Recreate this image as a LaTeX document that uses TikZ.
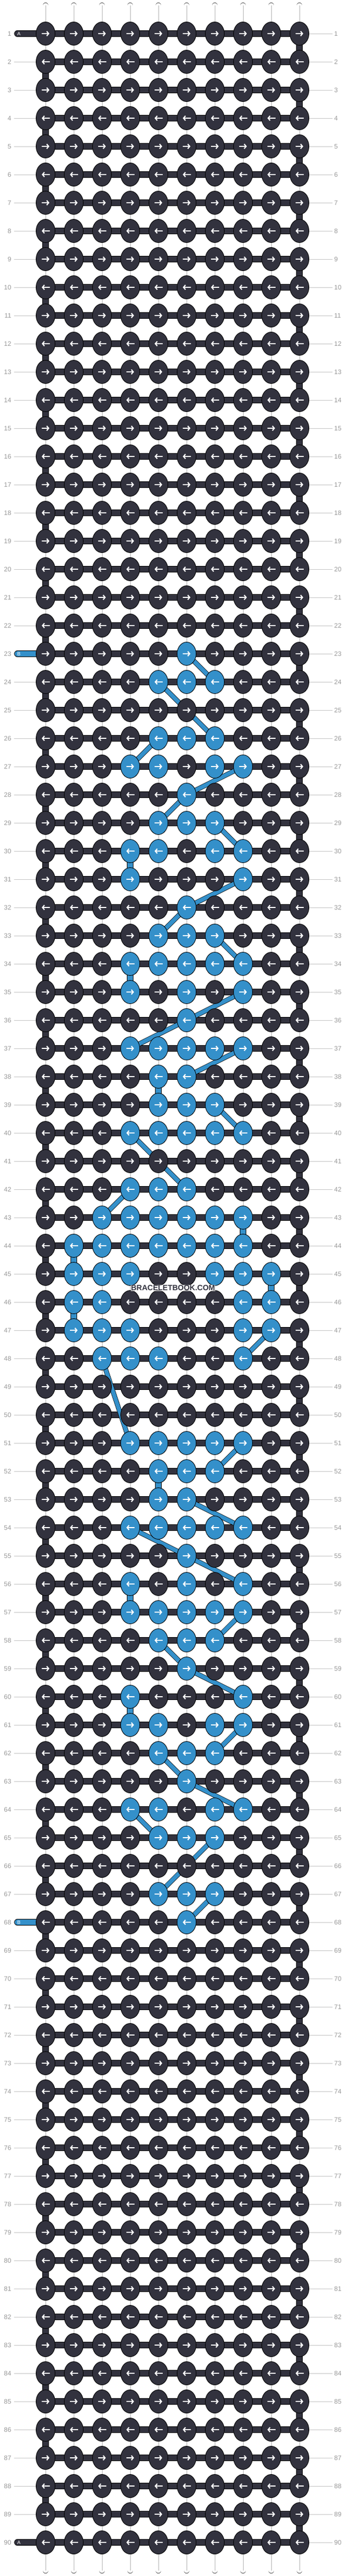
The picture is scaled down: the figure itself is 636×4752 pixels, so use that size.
\documentclass[tikz,border=0pt]{standalone}
\usepackage{fontspec}
\setmainfont{Liberation Sans}
\usetikzlibrary{shapes.geometric,arrows.meta}
\definecolor{bbDark}{HTML}{32323E}
\definecolor{bbBlue}{HTML}{3490CA}
\definecolor{lblGray}{HTML}{999999}
\definecolor{sideGray}{HTML}{C4C4C4}
\definecolor{tubeGray}{HTML}{B4B4B4}
\pgfdeclarelayer{bg}\pgfdeclarelayer{tubes}\pgfdeclarelayer{bars}\pgfdeclarelayer{carrylayer}
\pgfsetlayers{bg,tubes,bars,carrylayer,main}
\tikzset{
 knotnode/.style={ellipse, draw=black, line width=0.9pt, minimum width=35pt, minimum height=43pt, inner sep=0pt},
 bar/.style={draw=black, line width=0.8pt, double=bbDark, double distance=10pt},
 bluebar/.style={draw=black, line width=0.8pt, double=bbBlue, double distance=9.5pt},
 tube/.style={draw=black, line width=0.8pt, double=white, double distance=9.2pt},
 tubeline/.style={draw=tubeGray, line width=0.8pt},
 carry/.style={draw=black, line width=0.7pt, double=bbBlue, double distance=7.5pt},
 sideline/.style={draw=sideGray, line width=0.9pt},
 rowlbl/.style={text=lblGray, font=\fontsize{12}{12}\selectfont, inner sep=0pt},
 karrow/.style={draw=white, line width=2.1pt, -{Straight Barb[length=3.5pt,width=8.5pt]}},
 tabline/.style={draw=black, line width=0.8pt, double distance=10pt, line cap=round},
 tabtext/.style={text=white, font=\fontsize{9}{9}\selectfont, inner sep=0pt},
}
% blue knots
\foreach \r/\cs in {23/{6},24/{5,6,7},26/{5,6,7},27/{4,5,7,8},28/{6},29/{5,6,7},30/{4,5,7,8},31/{4,8},32/{6},33/{5,6,7},34/{4,5,6,7,8},35/{4,6,8},36/{6},37/{4,5,6,7,8},38/{5,6},39/{5,6,7},40/{4,5,6,7,8},42/{4,5,6},43/{3,4,5,6,7,8},44/{2,3,4,5,6,7,8},45/{2,3,4,7,8,9},46/{2,3,8,9},47/{2,3,4,8,9},48/{3,4,5,8},51/{4,5,6,7,8},52/{5,6,7},53/{5,6},54/{4,5,6,7,8},55/{6},56/{4,6,8},57/{4,5,6,7,8},58/{5,6,7},59/{6},60/{4,8},61/{4,5,7,8},62/{5,6,7},63/{6},64/{4,5,7,8},65/{5,6,7},67/{5,6,7},68/{6}}
{\foreach \c in \cs {\expandafter\gdef\csname kb-\c-\r\endcsname{}}}
% blue vertical connectors (column/row above)
\foreach \c/\r in {4/30,4/34,5/38,8/43,2/44,9/45,2/46,5/52,4/56,4/60}
{\expandafter\gdef\csname vb-\c-\r\endcsname{}}
% rows with tabs at the left
\foreach \r in {1,23,68,90}{\expandafter\gdef\csname tab-\r\endcsname{}}
\begin{document}
\begin{tikzpicture}[x=1pt,y=-1pt]
\useasboundingbox (0,0) rectangle (636,4752);
\begin{pgfonlayer}{bg}\fill[white] (0,0) rectangle (636,4752);\end{pgfonlayer}
% knots, arrows, labels
\foreach \r in {1,...,90}{
  \pgfmathtruncatemacro\yy{62+52*(\r-1)}
  \foreach \c in {1,...,10}{
    \pgfmathtruncatemacro\xx{84+52*(\c-1)}
    \ifcsname kb-\c-\r\endcsname\def\kc{bbBlue}\else\def\kc{bbDark}\fi
    \node[knotnode, fill=\kc] (k-\c-\r) at (\xx,\yy) {};
    \ifodd\r
      \draw[karrow] ([xshift=-7.5pt]k-\c-\r.center) -- ([xshift=7pt]k-\c-\r.center);
    \else
      \draw[karrow] ([xshift=7.5pt]k-\c-\r.center) -- ([xshift=-7pt]k-\c-\r.center);
    \fi
  }
  \node[rowlbl, anchor=east] (ll-\r) at (21,\yy) {\r};
  \node[rowlbl, anchor=west] (rl-\r) at (616,\yy) {\r};
}
% string tab letters
\foreach \r/\lt in {1/A,23/B,68/B,90/A}{
  \pgfmathtruncatemacro\yy{62+52*(\r-1)}
  \coordinate (ta-\r) at (32,\yy);
  \node[tabtext] (tt-\r) at (35,\yy) {\lt};
}
\foreach \c in {1,...,10}{
  \pgfmathtruncatemacro\xx{84+52*(\c-1)}
  \coordinate (t-\c) at (\xx,10);
  \coordinate (b-\c) at (\xx,4742);
}
% ---------- tubes layer: side lines, white base strings
\begin{pgfonlayer}{tubes}
\foreach \r in {1,...,90}{
  \ifcsname tab-\r\endcsname\else
    \draw[sideline] ([xshift=5pt]ll-\r.east) -- (k-1-\r.west);
  \fi
  \draw[sideline] (k-10-\r.east) -- ([xshift=-3pt]rl-\r.west);
}
\foreach \r in {1,...,89}{
  \pgfmathtruncatemacro\rn{\r+1}
  \foreach \c in {1,...,10}{
    \ifcsname vb-\c-\r\endcsname\else
      \def\edge{0}%
      \ifodd\r \ifnum\c=10 \def\edge{1}\fi \else \ifnum\c=1 \def\edge{1}\fi \fi
      \ifnum\edge=0
        \draw[tube] (k-\c-\r.center) -- (k-\c-\rn.center);
        \draw[tubeline] (k-\c-\r.center) -- (k-\c-\rn.center);
      \fi
    \fi
  }
}
\foreach \c in {1,...,10}{
  \draw[tube, line cap=round] (t-\c) -- (k-\c-1.center);
  \draw[tubeline] (t-\c) -- (k-\c-1.center);
  \draw[tube, line cap=round] (b-\c) -- (k-\c-90.center);
  \draw[tubeline] (b-\c) -- (k-\c-90.center);
}
\end{pgfonlayer}
% ---------- bars layer: working strings
\begin{pgfonlayer}{bars}
\foreach \r in {1,...,90}{
  \foreach \c [evaluate=\c as \cn using int(\c+1)] in {1,...,9}{
    \draw[bar] (k-\c-\r.center) -- (k-\cn-\r.center);
  }
}
\foreach \r in {1,...,89}{
  \pgfmathtruncatemacro\rn{\r+1}
  \foreach \c in {1,...,10}{
    \ifcsname vb-\c-\r\endcsname
      \draw[bluebar] (k-\c-\r.center) -- (k-\c-\rn.center);
    \else
      \def\edge{0}%
      \ifodd\r \ifnum\c=10 \def\edge{1}\fi \else \ifnum\c=1 \def\edge{1}\fi \fi
      \ifnum\edge=1
        \draw[bar] (k-\c-\r.center) -- (k-\c-\rn.center);
      \fi
    \fi
  }
}
\foreach \r/\col in {1/bbDark,23/bbBlue,68/bbBlue,90/bbDark}{
  \draw[tabline, double=\col] (ta-\r) -- (k-1-\r.center);
}
\end{pgfonlayer}
% ---------- carried blue string
\begin{pgfonlayer}{carrylayer}
\foreach \ca/\ra/\cb/\rb in {6/23/7/24,5/24/7/26,5/26/4/27,8/27/6/28,6/28/5/29,7/29/8/30,8/31/6/32,6/32/5/33,7/33/8/34,8/35/6/36,6/36/4/37,8/37/6/38,7/39/8/40,4/40/6/42,4/42/3/43,9/47/8/48,3/48/4/51,8/51/7/52,6/53/8/54,4/54/6/55,6/55/8/56,8/57/7/58,5/58/6/59,6/59/8/60,8/61/7/62,5/62/6/63,6/63/8/64,4/64/5/65,7/65/5/67,7/67/6/68}{
  \draw[carry] (k-\ca-\ra.center) -- (k-\cb-\rb.center);
}
\end{pgfonlayer}
\node[font=\bfseries\fontsize{14}{14}\selectfont, text=bbDark, fill=white, fill opacity=0.55, text opacity=1, inner sep=1pt] (wm) at (319,2376) {BRACELETBOOK.COM};
\end{tikzpicture}
\end{document}
